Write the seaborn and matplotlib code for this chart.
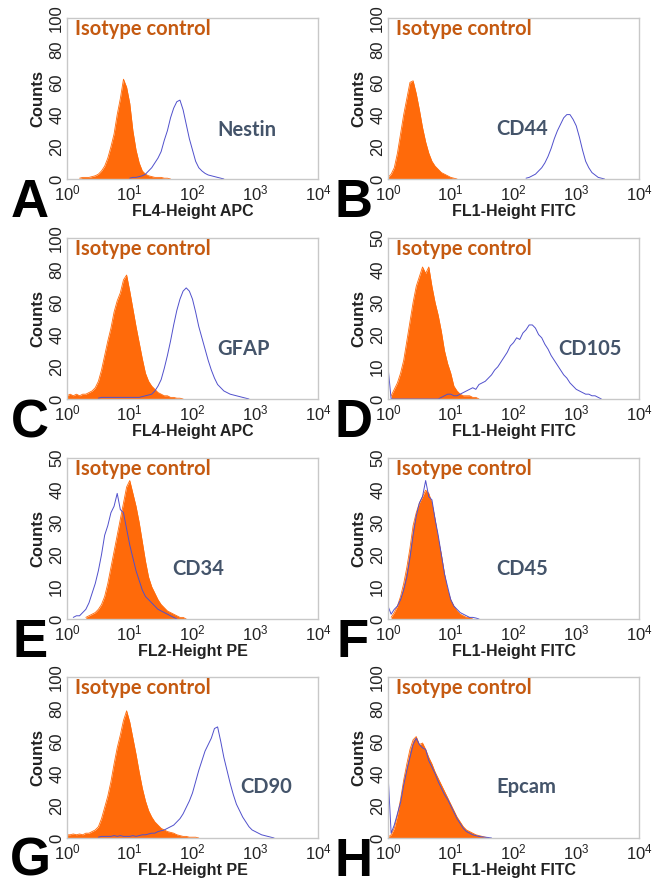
import numpy as np
import pandas as pd
import seaborn as sns
import matplotlib
matplotlib.use('Agg')
import matplotlib.pyplot as plt
from matplotlib.ticker import NullLocator, FixedLocator

# histogram channels are read every 0.05 decade, starting at *_start (log10 units)
STEP = 0.05

a_iso_start = 0.20
a_iso = [0.5, 1, 1, 1, 1.5, 2, 3, 5, 8, 13, 20, 28, 40, 50, 62, 57, 47, 30, 18, 10,
         5, 3, 2, 1.5, 1, 1, 1, 0.5, 0.5, 0]
a_pos_start = 1.00
a_pos = [0.5, 1, 1, 1.5, 2, 3, 5, 7, 10, 13, 17, 24, 30, 38, 44, 48, 49, 43, 34, 25,
         18, 11, 7, 5, 3.5, 2.5, 2, 1.5, 1, 0.5, 0]

b_iso_start = 0.00
b_iso = [1, 3, 7, 16, 28, 40, 50, 60, 61, 53, 43, 32, 23, 16, 11, 8, 6, 4, 3, 2,
         1, 0.5, 0]
b_pos_start = 2.20
b_pos = [0.5, 1, 2, 3, 5, 7, 10, 14, 19, 25, 30, 34, 38, 40, 40, 37, 33, 26, 18, 11,
         7, 4, 2.5, 1, 0.5, 0]

c_iso_start = 0.00
c_iso = [2, 3, 2, 3, 2, 3, 3, 4, 5, 7, 11, 18, 27, 36, 44, 54, 61, 66, 74, 77,
         67, 56, 45, 35, 25, 16, 11, 8, 6, 4, 3, 2, 2, 1, 1, 0.5, 0.5, 0]
c_pos_start = 0.50
c_pos = [0.5, 1, 1, 1, 1, 1, 1, 1, 1, 1, 1, 1, 1, 1, 1.5, 2, 2.5, 3, 5, 8,
         12, 19, 27, 36, 46, 55, 62, 67, 69, 67, 62, 54, 45, 38, 31, 24, 18, 13, 9, 7,
         5, 4, 3, 2.5, 2, 1.5, 1, 0.5, 0]

d_iso_start = 0.05
d_iso = [1, 3, 5, 8, 12, 18, 24, 30, 35, 38, 41, 39, 41, 35, 30, 26, 21, 15, 11, 8,
         4, 2.5, 1.5, 1, 1, 1, 0.5, 0.5, 0]
d_pos_start = 0.00
d_pos = [10, 0, 0, 0, 0, 0, 0, 0, 0, 0, 0, 0, 0, 0, 0, 0, 0, 0.5, 1, 1.5,
         1.5, 1, 1, 1.5, 2, 2.5, 3, 3.5, 3, 4.5, 5, 5.5, 6.5, 7.5, 9, 10, 11.5, 13, 14.5, 16.5,
         17.5, 19, 18.5, 20.5, 21.5, 23, 23, 22, 20, 19, 17, 15.5, 13.5, 12, 10.5, 9, 7.5, 6.5, 5, 4,
         3, 2.5, 2, 1.5, 1.5, 1, 1, 0.5, 0]

e_iso_start = 0.30
e_iso = [0.5, 1, 1.5, 2, 3, 4.5, 7, 11, 16, 21, 26, 31, 36, 41, 43, 39, 35, 30, 24, 18,
         13, 10, 8, 6, 4.5, 3.5, 2.5, 2, 1.5, 1, 0.5, 0.5, 0]
e_pos_start = 0.10
e_pos = [0.5, 1, 1, 2, 3, 5, 8, 11, 15, 20, 26, 29, 33, 35, 39, 34, 33, 28, 23, 19,
         15, 12, 9, 7, 6, 5, 4, 3, 2.5, 2, 1.5, 1, 0.5, 0]

f_iso_start = 0.05
f_iso = [0.5, 2, 4, 7, 11, 16, 22, 29, 33, 36, 38, 40, 39, 36, 31, 25, 20, 14, 9, 6,
         4, 2.5, 1.5, 1, 0.5, 0.5, 0]
f_pos_start = 0.00
f_pos = [4, 1.5, 3, 4, 6, 9, 13, 19, 26, 32, 36, 38, 43, 38, 37, 31, 26, 20, 14, 10,
         6, 4, 3, 2, 1.5, 1, 0.5, 0.5, 0.3, 0]

g_iso_start = 0.00
g_iso = [2, 2, 2.5, 2, 2.5, 2, 3, 3, 4, 5, 7, 12, 19, 26, 35, 46, 56, 64, 73, 79,
         72, 62, 52, 41, 31, 23, 17, 13, 10, 8, 6, 5, 4, 3.5, 3, 2, 1.5, 1, 1, 0.5,
         0.5, 0.5, 0]
g_pos_start = 0.50
g_pos = [0.5, 1, 1, 1, 1, 1.5, 1, 1.5, 1, 1, 1, 1.5, 1, 1.5, 2, 2, 2.5, 3, 3, 4,
         4.5, 5, 6, 7, 8, 10, 12, 15, 19, 23, 28, 35, 42, 48, 54, 58, 62, 68, 69, 60,
         50, 42, 34, 27, 21, 17, 13, 10, 7, 5, 4, 3, 2, 1.5, 1, 0.5, 0]

h_iso_start = 0.00
h_iso = [0.5, 2, 6, 14, 24, 36, 46, 55, 61, 63, 58, 59, 55, 50, 46, 41, 37, 33, 29, 25,
         21, 17, 13, 10, 7, 5, 4, 3, 2, 1.5, 1, 0.5, 0]
h_pos_start = 0.00
h_pos = [40, 3, 8, 15, 22, 33, 42, 50, 58, 62, 58, 56, 55, 48, 44, 40, 35, 31, 27, 24,
         20, 16, 12, 9, 6, 4, 3, 2, 1.5, 1, 0.7, 0.5, 0.3, 0]

letters = ['A', 'B', 'C', 'D', 'E', 'F', 'G', 'H']
markers = ['Nestin', 'CD44', 'GFAP', 'CD105', 'CD34', 'CD45', 'CD90', 'Epcam']
channels = ['FL4-Height APC', 'FL1-Height FITC', 'FL4-Height APC', 'FL1-Height FITC',
            'FL2-Height PE', 'FL1-Height FITC', 'FL2-Height PE', 'FL1-Height FITC']
ymax = [100, 100, 100, 50, 50, 50, 100, 100]
iso_data = [(a_iso_start, a_iso), (b_iso_start, b_iso), (c_iso_start, c_iso), (d_iso_start, d_iso),
            (e_iso_start, e_iso), (f_iso_start, f_iso), (g_iso_start, g_iso), (h_iso_start, h_iso)]
pos_data = [(a_pos_start, a_pos), (b_pos_start, b_pos), (c_pos_start, c_pos), (d_pos_start, d_pos),
            (e_pos_start, e_pos), (f_pos_start, f_pos), (g_pos_start, g_pos), (h_pos_start, h_pos)]

# where the marker name sits, in axes fraction
marker_xy = [(0.60, 0.267), (0.43, 0.273), (0.60, 0.273), (0.68, 0.273),
             (0.42, 0.273), (0.43, 0.273), (0.69, 0.28), (0.43, 0.28)]

ORANGE = '#FF6A0A'
BLUE = '#5050CC'
ISO_TEXT = '#C55A11'
MARK_TEXT = '#44546A'


def to_frame(start, counts):
    logs = start + STEP * np.arange(len(counts))
    return pd.DataFrame({'fluor': 10 ** logs, 'count': counts})


sns.set_style('white')
plt.rcParams['font.family'] = ['Liberation Sans', 'DejaVu Sans']
plt.rcParams['mathtext.fontset'] = 'custom'
plt.rcParams['mathtext.rm'] = 'Liberation Sans'
plt.rcParams['mathtext.it'] = 'Liberation Sans:italic'
plt.rcParams['mathtext.bf'] = 'Liberation Sans:bold'

W, H = 652, 886
fig = plt.figure(figsize=(W / 100, H / 100), dpi=100)

col_left = [67, 388]
row_top = [18, 238, 458, 677]
ax_w, ax_h = 251, 161

for i in range(8):
    r, c = divmod(i, 2)
    left, top = col_left[c], row_top[r]
    ax = fig.add_axes([left / W, 1 - (top + ax_h) / H, ax_w / W, ax_h / H])

    iso = to_frame(*iso_data[i])
    pos = to_frame(*pos_data[i])
    ax.fill_between(iso['fluor'], iso['count'], 0, color=ORANGE, lw=0)
    sns.lineplot(data=iso, x='fluor', y='count', ax=ax, color=ORANGE, lw=0.6)
    sns.lineplot(data=pos, x='fluor', y='count', ax=ax, color=BLUE, lw=0.7)

    ax.set_xscale('log')
    ax.set_xlim(1, 1e4)
    ax.set_ylim(0, ymax[i])
    ax.xaxis.set_major_locator(FixedLocator([1, 10, 100, 1000, 10000]))
    ax.xaxis.set_minor_locator(NullLocator())
    ax.set_yticks(np.linspace(0, ymax[i], 6))
    ax.set_yticklabels([str(int(v)) for v in np.linspace(0, ymax[i], 6)],
                       rotation=90, va='center')
    ax.tick_params(length=0, labelcolor='#222222')
    ax.tick_params(axis='x', pad=3, labelsize=12)
    ax.tick_params(axis='y', pad=2, labelsize=12)
    for s in ax.spines.values():
        s.set_color('#C8C8C8')
        s.set_linewidth(1)

    ax.set_xlabel(channels[i], fontsize=11.5, fontweight='bold', color='#222222')
    ax.set_ylabel('Counts', fontsize=12, fontweight='bold', color='#222222')
    ax.xaxis.set_label_coords(0.5, -0.155)
    ax.yaxis.set_label_coords(-0.088, 0.5)

    ax.text(0.032, 0.894, 'Isotype control', transform=ax.transAxes, color=ISO_TEXT,
            fontsize=14.5, fontweight='bold', family=['Lato', 'DejaVu Sans'], va='baseline')
    mx, my = marker_xy[i]
    ax.text(mx, my, markers[i], transform=ax.transAxes, color=MARK_TEXT,
            fontsize=14.5, fontweight='bold', family=['Lato', 'DejaVu Sans'], va='baseline')

    lx = 30 if c == 0 else 353
    fig.text(lx / W, 1 - (top + ax_h + 38) / H, letters[i], fontsize=38, fontweight='bold',
             ha='center', va='baseline', color='black')

fig.savefig('out.png', dpi=100)
